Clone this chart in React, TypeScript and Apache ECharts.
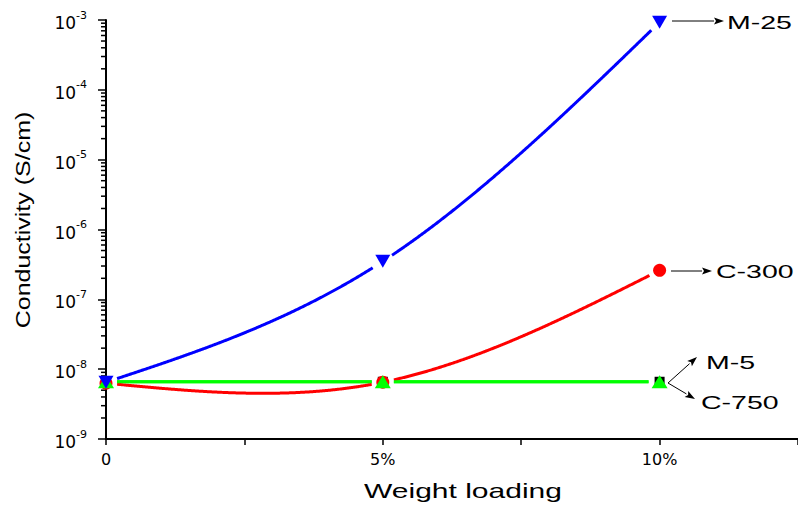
import React, { useEffect, useRef } from "react";
import * as echarts from "echarts";

// ---- data ----
const weightLoading = [0, 5, 10]; // wt %
const m25 = [6.5e-9, 3.5e-7, 9.3e-4];
const c300 = [6.3e-9, 6.5e-9, 2.6e-7];
const m5 = [6.6e-9, 6.6e-9, 6.6e-9];
const c750 = [6.6e-9, 6.6e-9, 6.6e-9];
const yMin = 1e-9;
const yMax = 1e-3;
const xMax = 12.5;
const xTickLabels: Record<string, string> = { "0": "0", "5": "5%", "10": "10%" };
const minorTickValues: number[] = [];
for (let e = -9; e < -3; e++) {
  for (let k = 2; k <= 9; k++) minorTickValues.push(k * Math.pow(10, e));
}

const annotations = [
  { text: "M-25", from: [672, 21], to: [724, 21], tx: 727, ty: 22 },
  { text: "C-300", from: [671, 271], to: [712, 271], tx: 716, ty: 271 },
  { text: "M-5", from: [668, 383], to: [697, 357], tx: 706, ty: 362 },
  { text: "C-750", from: [668, 383], to: [695, 399], tx: 701, ty: 402 },
];

// natural cubic spline through (xs, log10 ys), evaluated in log space (as the plotting program did)
function naturalSpline(xs: number[], ysLin: number[]) {
  const ys = ysLin.map((v) => Math.log10(v));
  const n = xs.length;
  const h: number[] = [];
  for (let i = 0; i < n - 1; i++) h.push(xs[i + 1] - xs[i]);
  const M = new Array(n).fill(0);
  if (n > 2) {
    const a: number[] = [], b: number[] = [], c: number[] = [], d: number[] = [];
    for (let i = 1; i < n - 1; i++) {
      a.push(h[i - 1]);
      b.push(2 * (h[i - 1] + h[i]));
      c.push(h[i]);
      d.push(6 * ((ys[i + 1] - ys[i]) / h[i] - (ys[i] - ys[i - 1]) / h[i - 1]));
    }
    const m = b.length;
    for (let i = 1; i < m; i++) {
      const w = a[i] / b[i - 1];
      b[i] -= w * c[i - 1];
      d[i] -= w * d[i - 1];
    }
    const sol = new Array(m).fill(0);
    sol[m - 1] = d[m - 1] / b[m - 1];
    for (let i = m - 2; i >= 0; i--) sol[i] = (d[i] - c[i] * sol[i + 1]) / b[i];
    for (let i = 0; i < m; i++) M[i + 1] = sol[i];
  }
  return (x: number) => {
    let i = 0;
    while (i < n - 2 && x > xs[i + 1]) i++;
    const hi = h[i];
    const t0 = xs[i + 1] - x;
    const t1 = x - xs[i];
    const ly =
      (M[i] * t0 * t0 * t0) / (6 * hi) +
      (M[i + 1] * t1 * t1 * t1) / (6 * hi) +
      (ys[i] - (M[i] * hi * hi) / 6) * (t0 / hi) +
      (ys[i + 1] - (M[i + 1] * hi * hi) / 6) * (t1 / hi);
    return Math.pow(10, ly);
  };
}

const GAP = 11;

function curveSeries(name: string, values: number[], color: string) {
  const f = naturalSpline(weightLoading, values);
  return {
    name: name + " curve",
    type: "custom",
    silent: true,
    clip: true,
    data: weightLoading.map((x, i) => [x, values[i]]),
    renderItem: (params: any, api: any) => {
      if (params.dataIndex !== 0) return { type: "group", children: [] };
      const marks = weightLoading.map((x, i) => api.coord([x, values[i]]));
      const segs: number[][][] = [];
      let cur: number[][] = [];
      const x0 = weightLoading[0];
      const x1 = weightLoading[weightLoading.length - 1];
      const steps = 600;
      for (let k = 0; k <= steps; k++) {
        const x = x0 + ((x1 - x0) * k) / steps;
        const p = api.coord([x, f(x)]);
        const near = marks.some((m: number[]) => Math.hypot(m[0] - p[0], m[1] - p[1]) < GAP);
        if (near) {
          if (cur.length > 1) segs.push(cur);
          cur = [];
        } else cur.push(p);
      }
      if (cur.length > 1) segs.push(cur);
      return {
        type: "group",
        children: segs.map((pts) => ({
          type: "polyline",
          shape: { points: pts },
          style: { stroke: color, lineWidth: 3, fill: "none" },
        })),
      };
    },
  };
}

function markerSeries(name: string, values: number[], symbol: string, size: any, color: string, rotate = 0) {
  return {
    name,
    type: "scatter",
    data: weightLoading.map((x, i) => [x, values[i]]),
    symbol,
    symbolSize: size,
    symbolRotate: rotate,
    itemStyle: { color, opacity: 1 },
    silent: true,
  };
}

function arrowGraphics() {
  const out: any[] = [];
  annotations.forEach((a) => {
    const [x1, y1] = a.from;
    const [x2, y2] = a.to;
    const ang = Math.atan2(y2 - y1, x2 - x1);
    const L = 10;
    const W = 3.5;
    const bx = x2 - L * Math.cos(ang);
    const by = y2 - L * Math.sin(ang);
    out.push({
      type: "line",
      silent: true,
      shape: { x1, y1, x2: bx, y2: by },
      style: { stroke: "#000", lineWidth: 1 },
    });
    out.push({
      type: "polygon",
      silent: true,
      shape: {
        points: [
          [x2, y2],
          [bx - W * Math.sin(ang), by + W * Math.cos(ang)],
          [bx + 2 * Math.cos(ang), by + 2 * Math.sin(ang)],
          [bx + W * Math.sin(ang), by - W * Math.cos(ang)],
        ],
      },
      style: { fill: "#000" },
    });
    out.push({
      type: "text",
      silent: true,
      x: a.tx,
      y: a.ty,
      scaleX: 1.5,
      style: {
        text: a.text,
        fontSize: 19,
        fontFamily: "Liberation Sans",
        fill: "#000",
        align: "left",
        verticalAlign: "middle",
      },
    });
  });
  return out;
}

export default function App() {
  const ref = useRef<HTMLDivElement>(null);
  useEffect(() => {
    if (!ref.current) return;
    const chart = echarts.init(ref.current, null, { renderer: "svg" });
    const option: any = {
      animation: false,
      backgroundColor: "#fff",
      grid: { left: 106, right: 0, top: 20, bottom: 68, containLabel: false, outerBoundsMode: "none" },
      xAxis: {
        type: "value",
        min: 0,
        max: xMax,
        interval: 2.5,
        axisLine: { show: true, onZero: false, lineStyle: { color: "#000", width: 2 } },
        axisTick: { show: true, inside: false, length: 6, lineStyle: { color: "#000", width: 1.5 } },
        splitLine: { show: false },
        axisLabel: {
          margin: 12,
          fontSize: 16,
          fontFamily: "DejaVu Sans",
          color: "#000",
          formatter: (v: number) => xTickLabels[String(v)] ?? "",
        },
      },
      yAxis: {
        type: "log",
        logBase: 10,
        min: yMin,
        max: yMax,
        axisLine: { show: true, lineStyle: { color: "#000", width: 2 } },
        axisTick: { show: true, inside: false, length: 8, lineStyle: { color: "#000", width: 1.5 } },
        splitLine: { show: false },
        axisLabel: {
          margin: 19,
          color: "#000",
          formatter: (v: number) => `{b|10}{s|${Math.round(Math.log10(v))}}`,
          rich: {
            b: { fontSize: 17, fontFamily: "DejaVu Sans", color: "#000", padding: [6, 0, 0, 0] },
            s: { fontSize: 11, fontFamily: "DejaVu Sans", color: "#000", padding: [0, 0, 10, 0] },
          },
        },
      },
      series: [
        {
          type: "custom",
          silent: true,
          clip: false,
          z: 1,
          data: minorTickValues.map((v) => [0, v]),
          renderItem: (_p: any, api: any) => {
            const pt = api.coord([api.value(0), api.value(1)]);
            return {
              type: "line",
              shape: { x1: pt[0] - 5, y1: pt[1], x2: pt[0], y2: pt[1] },
              style: { stroke: "#000", lineWidth: 1.5 },
            };
          },
        },
        curveSeries("C-750", c750, "#00ff00"),
        curveSeries("C-300", c300, "#ff0000"),
        curveSeries("M-5", m5, "#00ff00"),
        curveSeries("M-25", m25, "#0000ff"),
        markerSeries("C-750", c750, "rect", 10, "#000"),
        markerSeries("C-300", c300, "circle", 13, "#ff0000"),
        markerSeries("M-5", m5, "triangle", [16, 13], "#00ff00"),
        markerSeries("M-25", m25, "triangle", [15, 13], "#0000ff", 180),
      ],
      graphic: [
        {
          type: "text",
          silent: true,
          x: 23,
          y: 220,
          rotation: Math.PI / 2,
          scaleX: 1.25,
          style: {
            text: "Conductivity (S/cm)",
            fontSize: 20,
            fontFamily: "Liberation Sans",
            fill: "#000",
            align: "center",
            verticalAlign: "middle",
          },
        },
        {
          type: "text",
          silent: true,
          x: 463,
          y: 491,
          scaleX: 1.5,
          style: {
            text: "Weight loading",
            fontSize: 20,
            fontFamily: "Liberation Sans",
            fill: "#000",
            align: "center",
            verticalAlign: "middle",
          },
        },
        ...arrowGraphics(),
      ],
    };
    chart.setOption(option);
    return () => chart.dispose();
  }, []);
  return (
    <div
      ref={ref}
      style={{ position: "absolute", left: 0, top: 0, width: 798, height: 507 }}
    />
  );
}
